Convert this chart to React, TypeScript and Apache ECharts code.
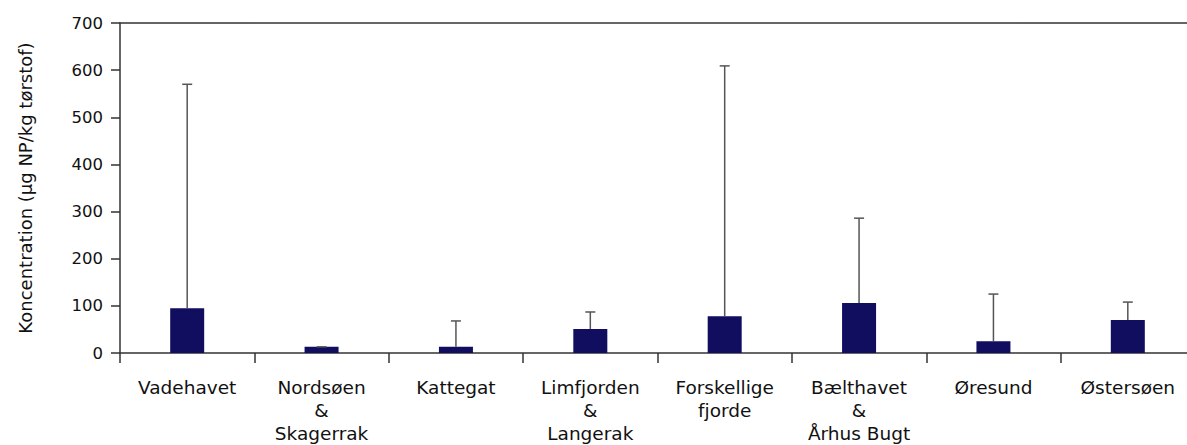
import React, { useEffect, useRef } from "react";
import * as echarts from "echarts";

const categories = [
  "Vadehavet",
  "Nordsøen\n&\nSkagerrak",
  "Kattegat",
  "Limfjorden\n&\nLangerak",
  "Forskellige\nfjorde",
  "Bælthavet\n&\nÅrhus Bugt",
  "Øresund",
  "Østersøen",
];
const meanValues = [95, 13, 13, 51, 78, 106, 25, 70];
const upperValues = [570, 13, 68, 87, 609, 286, 125, 108];
const yTicks = { min: 0, max: 700, interval: 100 };

const FONT = "'DejaVu Sans', sans-serif";
const TEXT = "#111";
const AXIS = "#333";

export default function App() {
  const ref = useRef<HTMLDivElement>(null);
  useEffect(() => {
    document.body.style.overflow = "hidden";
    const chart = echarts.init(ref.current!, undefined, { renderer: "svg" });
    chart.setOption({
      animation: false,
      grid: { left: 120, top: 23, right: 5, bottom: 92, containLabel: false },
      xAxis: [
        {
          type: "category",
          data: categories,
          boundaryGap: true,
          axisLine: { show: true, lineStyle: { color: AXIS, width: 1.5 } },
          axisTick: { show: true, length: 10, lineStyle: { color: AXIS, width: 1.5 } },
          axisLabel: { color: TEXT, fontSize: 18.5, lineHeight: 23, fontFamily: FONT, margin: 23, interval: 0 },
        },
        {
          type: "category",
          position: "top",
          data: categories,
          axisLine: { show: true, lineStyle: { color: AXIS, width: 1.5 } },
          axisTick: { show: false },
          axisLabel: { show: false },
        },
      ],
      yAxis: {
        type: "value",
        min: yTicks.min,
        max: yTicks.max,
        interval: yTicks.interval,
        name: "Koncentration (µg NP/kg tørstof)",
        nameLocation: "middle",
        nameRotate: 90,
        nameGap: 86,
        nameTextStyle: { color: TEXT, fontSize: 18, fontFamily: FONT },
        axisLine: { show: true, lineStyle: { color: AXIS, width: 1.5 } },
        axisTick: { show: true, length: 9, lineStyle: { color: AXIS, width: 1.5 } },
        axisLabel: { color: TEXT, fontSize: 16.5, fontFamily: FONT, margin: 17 },
        splitLine: { show: false },
      },
      series: [
        {
          type: "bar",
          data: meanValues,
          barWidth: 34,
          itemStyle: { color: "#110D5F" },
          z: 2,
        },
        {
          type: "custom",
          data: categories.map((_, i) => [i, meanValues[i], upperValues[i]]),
          z: 3,
          renderItem: (params: any, api: any) => {
            const x = api.value(0);
            const lo = api.coord([x, api.value(1)]);
            const hi = api.coord([x, api.value(2)]);
            const half = 5;
            const style = { stroke: "#555", lineWidth: 1.5 };
            return {
              type: "group",
              children: [
                { type: "line", shape: { x1: lo[0], y1: lo[1], x2: hi[0], y2: hi[1] }, style },
                { type: "line", shape: { x1: hi[0] - half, y1: hi[1], x2: hi[0] + half, y2: hi[1] }, style },
              ],
            };
          },
        },
      ],
    });
    return () => chart.dispose();
  }, []);
  return (
    <div
      ref={ref}
      style={{ position: "fixed", left: 0, top: 0, width: 1200, height: 445, background: "#fff" }}
    />
  );
}
